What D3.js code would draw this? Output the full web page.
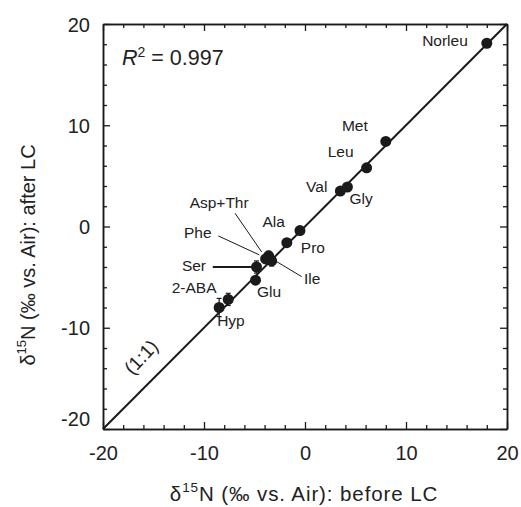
<!DOCTYPE html>
<html><head><meta charset="utf-8">
<script src="https://cdn.jsdelivr.net/npm/d3@7"></script>
<style>body{margin:0;background:#fff}svg{display:block}text{font-family:"Liberation Sans",Arial,sans-serif;fill:#222}</style>
</head><body>
<svg id="c" width="521" height="507"></svg>
<script>
// data
const names  = ["Norleu","Met","Leu","Gly","Val","Ala","Pro","Asp+Thr","Phe","Ile","Ser","Glu","2-ABA","Hyp"];
const before = [18.0, 8.0, 6.1, 4.2, 3.5, -0.5, -1.8, -3.6, -3.9, -3.3, -4.8, -4.9, -7.6, -8.5];
const after  = [18.1, 8.4, 5.8, 3.9, 3.5, -0.4, -1.6, -2.9, -3.2, -3.4, -4.0, -5.3, -7.2, -8.0];
const errs   = [0.2, 0.3, 0.2, 0.2, 0.2, 0.2, 0.2, 0.45, 0.3, 0.5, 0.6, 0.2, 0.6, 0.9];
const majorTicks = [-20,-10,0,10,20];
const minorTicks = [-18,-16,-14,-12,-8,-6,-4,-2,2,4,6,8,12,14,16,18];
const domain = [-20,20];
const r2Text = "0.997";

// label annotations: pixel offsets from point, anchor, optional leader line
const ann = {
  "Norleu": {dx:-19, dy:3, a:"end"},
  "Met":    {dx:-18, dy:-10, a:"end"},
  "Leu":    {dx:-13, dy:-11, a:"end"},
  "Val":    {dx:-13, dy:1, a:"end"},
  "Gly":    {dx:2, dy:16.5, a:"start"},
  "Ala":    {dx:-15, dy:-3.5, a:"end"},
  "Pro":    {dx:14, dy:10, a:"start"},
  "Asp+Thr":{dx:-49.5, dy:-47.5, a:"middle", line:[-33.6,-42.6,-7,-4], w:1},
  "Phe":    {dx:-54, dy:-20.7, a:"end", line:[-47.3,-23,-6.3,-4], w:1},
  "Ile":    {dx:32.3, dy:23, a:"start", line:[5,0.7,30,15.7], w:1},
  "Ser":    {dx:-50.5, dy:3.7, a:"end", line:[-43.8,0,-4.8,0], w:2},
  "Glu":    {dx:1.5, dy:17, a:"start"},
  "2-ABA":  {dx:-11.7, dy:-6.3, a:"end"},
  "Hyp":    {dx:-2, dy:18.5, a:"start"}
};

const L=103, R=507, T=24, B=429;
const x = d3.scaleLinear().domain(domain).range([L,R]);
const y = d3.scaleLinear().domain(domain).range([B,T]);
const svg = d3.select("#c");
const col = "#1a1a1a";
const fmt = d => String(d); // plain hyphen-minus like the reference

// 1:1 line
svg.append("line").attr("x1",x(domain[0])).attr("y1",y(domain[0])).attr("x2",x(domain[1])).attr("y2",y(domain[1]))
  .attr("stroke",col).attr("stroke-width",2);

// axes (ticks inside, all four sides)
function axis(gen, tr, vals, len, labels){
  const g = svg.append("g").attr("transform",tr).call(gen.tickValues(vals).tickSizeInner(len).tickSizeOuter(0).tickFormat(labels?fmt:""));
  g.select(".domain").attr("stroke",col).attr("stroke-width",1.5);
  g.selectAll(".tick line").attr("stroke",col).attr("stroke-width",1.3);
  return g;
}
axis(d3.axisBottom(x), `translate(0,${B})`, minorTicks, -4, false);
axis(d3.axisTop(x), `translate(0,${T})`, minorTicks, -4, false);
axis(d3.axisLeft(y), `translate(${L},0)`, minorTicks, -4, false);
axis(d3.axisRight(y), `translate(${R},0)`, minorTicks, -4, false);
axis(d3.axisTop(x), `translate(0,${T})`, majorTicks, -7, false);
axis(d3.axisRight(y), `translate(${R},0)`, majorTicks, -7, false);
const xb = axis(d3.axisBottom(x), `translate(0,${B})`, majorTicks, -7, true);
xb.selectAll(".tick text").attr("y",null).attr("dy",null).attr("transform","translate(0,31)").attr("font-size",20).attr("fill","#222").attr("font-family","Liberation Sans, Arial, sans-serif");
const yl = axis(d3.axisLeft(y), `translate(${L},0)`, majorTicks, -7, true);
yl.selectAll(".tick text").attr("x",-13).attr("dy","0.36em").attr("font-size",20).attr("fill","#222").attr("font-family","Liberation Sans, Arial, sans-serif")
  .attr("transform",d=>d===domain[0]?"translate(0,-11)":null);

// error bars
const idx = d3.range(names.length);
const eb = svg.append("g").attr("stroke",col).attr("stroke-width",1.2);
idx.forEach(i=>{
  const cx=x(before[i]), y1=y(after[i]-errs[i]), y2=y(after[i]+errs[i]);
  eb.append("line").attr("x1",cx).attr("x2",cx).attr("y1",y1).attr("y2",y2);
  eb.append("line").attr("x1",cx-2.5).attr("x2",cx+2.5).attr("y1",y1).attr("y2",y1);
  eb.append("line").attr("x1",cx-2.5).attr("x2",cx+2.5).attr("y1",y2).attr("y2",y2);
});

// points
svg.append("g").selectAll("circle").data(idx).join("circle")
  .attr("cx",i=>x(before[i])).attr("cy",i=>y(after[i])).attr("r",5.5).attr("fill",col);

// labels
idx.forEach(i=>{
  const a = ann[names[i]]; const px=x(before[i]), py=y(after[i]);
  if(a.line) svg.append("line").attr("x1",px+a.line[0]).attr("y1",py+a.line[1]).attr("x2",px+a.line[2]).attr("y2",py+a.line[3])
    .attr("stroke",col).attr("stroke-width",a.w);
  svg.append("text").attr("x",px+a.dx).attr("y",py+a.dy).attr("text-anchor",a.a).attr("font-size",15.5).text(names[i]);
});

// R^2
const rt = svg.append("text").attr("x",122).attr("y",65).attr("font-size",21.5);
rt.append("tspan").attr("font-style","italic").text("R");
rt.append("tspan").attr("font-size",14).attr("dy",-8).text("2");
rt.append("tspan").attr("dy",8).text(" = "+r2Text);

// (1:1)
svg.append("text").attr("transform","translate(141,357) rotate(-47)").attr("text-anchor","middle").attr("dy","0.35em").attr("font-size",19).text("(1:1)");

// axis titles
const xt = svg.append("text").attr("x",304).attr("y",501).attr("text-anchor","middle").attr("font-size",20.5).attr("letter-spacing",0.9);
xt.append("tspan").text("δ");
xt.append("tspan").attr("font-size",13.5).attr("dy",-9).text("15");
xt.append("tspan").attr("dy",9).text("N (‰ vs. Air): before LC");
const yt = svg.append("text").attr("transform","translate(35,255) rotate(-90)").attr("text-anchor","middle").attr("font-size",20);
yt.append("tspan").text("δ");
yt.append("tspan").attr("font-size",13).attr("dy",-9).text("15");
yt.append("tspan").attr("dy",9).text("N (‰ vs. Air): after LC");
</script>
</body></html>
